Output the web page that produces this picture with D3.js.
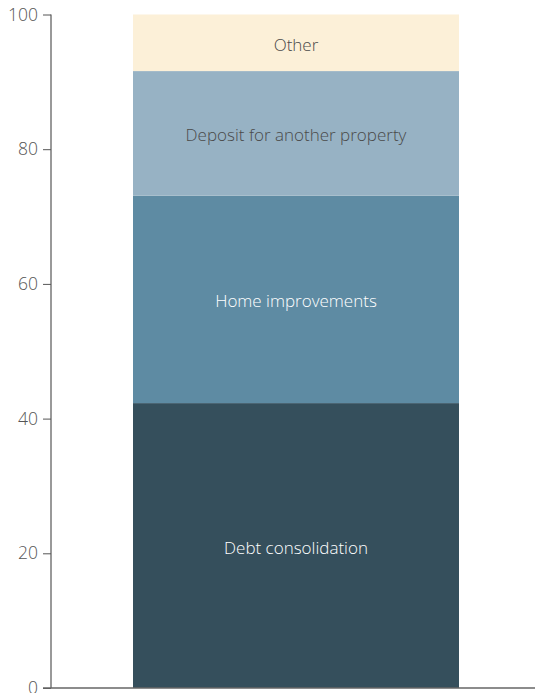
<!DOCTYPE html>
<html>
<head>
<meta charset="utf-8">
<script src="https://cdn.jsdelivr.net/npm/d3@7"></script>
<style>
  html, body { margin: 0; padding: 0; background: #fff; }
  svg { display: block; }
  text { font-family: "Open Sans", "Noto Sans", sans-serif; font-weight: 300; }
</style>
</head>
<body>
<svg id="chart" width="535" height="693"></svg>
<script>
// Reasons for releasing equity, share of total (%), stacked bottom to top
const categories = ["Debt consolidation", "Home improvements", "Deposit for another property", "Other"];
const shares = [42.3, 30.8, 18.5, 8.4];
const colors = ["#354f5c", "#5e8ba3", "#97b2c4", "#fcf0d8"];
const labelColors = ["#ffffff", "#ffffff", "#4a4a4a", "#4a4a4a"];
const yTicks = [0, 20, 40, 60, 80, 100];

const svg = d3.select("#chart");
const axisX = 51;
const bottom = 688;

const y = d3.scaleLinear().domain([0, 100]).range([bottom, 14.5]);
const x = d3.scaleBand().domain(["all"]).range([133, 459]).paddingInner(0).paddingOuter(0);

// stack the shares
let acc = 0;
const stacked = shares.map((v, i) => {
  const s = { name: categories[i], y0: acc, y1: acc + v, color: colors[i], label: labelColors[i] };
  acc += v;
  return s;
});

svg.selectAll("rect.seg").data(stacked).enter().append("rect")
  .attr("class", "seg")
  .attr("x", x("all"))
  .attr("width", x.bandwidth())
  .attr("y", d => y(d.y1))
  .attr("height", d => y(d.y0) - y(d.y1))
  .attr("fill", d => d.color);

svg.selectAll("text.seg").data(stacked).enter().append("text")
  .attr("class", "seg")
  .attr("x", x("all") + x.bandwidth() / 2)
  .attr("y", d => y((d.y0 + d.y1) / 2) + 2)
  .attr("dy", "0.35em")
  .attr("text-anchor", "middle")
  .attr("font-size", 17)
  .attr("fill", d => d.label)
  .text(d => d.name);

// y axis
const yAxis = d3.axisLeft(y).tickValues(yTicks).tickSize(8).tickPadding(5).tickFormat(d3.format("d"));
const ga = svg.append("g").attr("transform", `translate(${axisX},0)`).call(yAxis);
ga.select(".domain").remove();
ga.selectAll(".tick line").attr("stroke", "#555").attr("stroke-width", 1);
ga.selectAll(".tick text")
  .attr("font-size", 17.5)
  .attr("fill", "#555")
  .style("font-family", "'Open Sans', 'Noto Sans', sans-serif")
  .style("font-weight", 300);

svg.append("line")
  .attr("x1", axisX).attr("x2", axisX)
  .attr("y1", y(100)).attr("y2", bottom)
  .attr("stroke", "#555").attr("stroke-width", 1.2);

// baseline
svg.append("line")
  .attr("x1", axisX - 8).attr("x2", 535)
  .attr("y1", bottom).attr("y2", bottom)
  .attr("stroke", "#666").attr("stroke-width", 1.6);
</script>
</body>
</html>
